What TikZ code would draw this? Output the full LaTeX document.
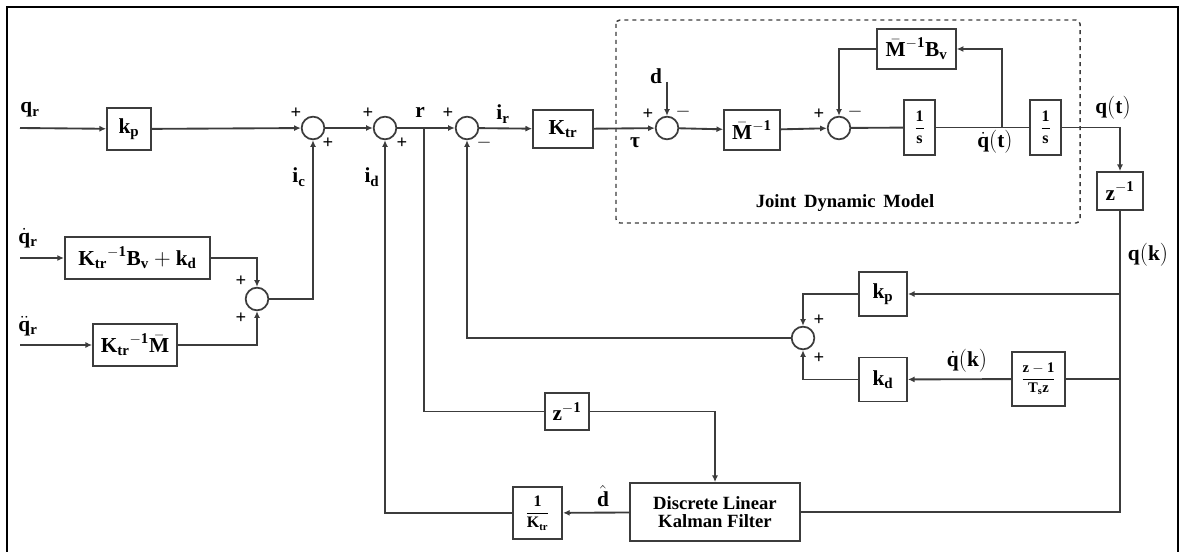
\documentclass[tikz,border=0pt]{standalone}
\usepackage{amsmath}
\usepackage{fontspec}
\setmainfont{Liberation Serif}
\usetikzlibrary{arrows.meta,positioning,calc}
\definecolor{linegrey}{RGB}{60,60,60}
\newcommand{\mb}[1]{\mathbf{#1}}

\begin{document}
\begin{tikzpicture}[x=0.75pt,y=-0.75pt,
    font=\fontsize{16}{18}\selectfont,
    blk/.style={rectangle, draw=linegrey, fill=white, line width=1.3pt, inner sep=1pt, align=center},
    sumn/.style={circle, draw=linegrey, fill=white, line width=1.3pt, minimum size=17pt, inner sep=0pt},
    wire/.style={draw=linegrey, line width=1.4pt},
    arr/.style={wire, -{Latex[length=5pt,width=4.5pt]}},
    sgn/.style={font=\fontsize{14}{14}\selectfont\bfseries, inner sep=0pt},
    lbl/.style={inner sep=0pt}
]
\useasboundingbox (0,0) rectangle (1184,552);
% outer frame
\draw[line width=1.6pt, draw=black] (7,552) -- (7,7) -- (1178,7) -- (1178,552);

% joint dynamic model
\draw[dashed, draw=linegrey, line width=1.1pt, rounded corners=3pt] (616,20) rectangle (1080,223);
\node[lbl, font=\fontsize{14}{16}\selectfont\bfseries] (jdm) at (845,203) {Joint\, Dynamic\, Model};

% forward path
\coordinate (qrin) at (20,128);
\node[blk, minimum width=33pt, minimum height=31pt] (kp) at (129,129) {$\mb{k}_{\mb{p}}$};
\node[sumn] (s1) at (313,128) {};
\node[sumn] (s2) at (385,128) {};
\node[sumn] (s3) at (467,128) {};
\node[blk, minimum width=45pt, minimum height=28.5pt] (ktr) at (563,129) {$\mb{K}_{\mb{tr}}$};
\node[sumn] (s4) at (667,128) {};
\coordinate (dtop) at (667,82);
\node[blk, minimum width=42pt, minimum height=30pt] (minv) at (752,130) {$\bar{\mb{M}}^{-\mb{1}}$};
\node[sumn] (s5) at (839,128) {};
\node[blk, minimum width=59pt, minimum height=30pt] (minvbv) at (916.5,49) {$\bar{\mb{M}}^{-\mb{1}}\mb{B}_{\mb{v}}$};
\node[blk, minimum width=23pt, minimum height=41pt, font=\fontsize{12}{14}\selectfont] (int1) at (919.5,127.5) {$\dfrac{\mb{1}}{\mb{s}}$};
\node[blk, minimum width=23pt, minimum height=41pt, font=\fontsize{12}{14}\selectfont] (int2) at (1045.5,127.5) {$\dfrac{\mb{1}}{\mb{s}}$};
\node[blk, minimum width=34.5pt, minimum height=28.5pt] (zinv1) at (1120,191) {$\mb{z}^{-\mb{1}}$};

% feed-forward inputs
\coordinate (qdrin) at (20,258);
\coordinate (qddrin) at (20,345);
\node[blk, minimum width=109pt, minimum height=32pt] (ffv) at (137.5,258) {$\mb{K}_{\mb{tr}}{}^{-\mb{1}}\mb{B}_{\mb{v}}+\mb{k}_{\mb{d}}$};
\node[blk, minimum width=63pt, minimum height=31.5pt] (ffa) at (135,345) {$\mb{K}_{\mb{tr}}{}^{-\mb{1}}\bar{\mb{M}}$};
\node[sumn] (sff) at (257,299) {};

% digital feedback
\node[blk, minimum width=36pt, minimum height=33pt] (kp2) at (883,294) {$\mb{k}_{\mb{p}}$};
\node[blk, minimum width=36pt, minimum height=33pt] (kd) at (883,379.5) {$\mb{k}_{\mb{d}}$};
\node[blk, minimum width=40pt, minimum height=40pt, font=\fontsize{11}{13}\selectfont] (diff) at (1038.5,379) {$\dfrac{\mb{z-1}}{\mb{T_s z}}$};
\node[sumn] (sfb) at (803,338) {};

% disturbance observer
\node[blk, minimum width=33pt, minimum height=28pt] (zinv2) at (567,411.5) {$\mb{z}^{-\mb{1}}$};
\node[blk, minimum width=127.5pt, minimum height=43.5pt, font=\fontsize{14}{16}\selectfont\bfseries] (kf) at (715,512) {Discrete Linear\\[-2pt]Kalman Filter};
\node[blk, minimum width=37pt, minimum height=39pt, font=\fontsize{12}{14}\selectfont] (kinv) at (537.5,513) {$\dfrac{\mb{1}}{\mb{K}_{\mb{tr}}}$};

% connectors
\draw[arr] (qrin) -- (kp);
\draw[arr] (kp) -- (s1);
\draw[arr] (s1) -- (s2);
\draw[arr] (s2) -- (s3);
\draw[arr] (s3) -- (ktr);
\draw[arr] (ktr) -- (s4);
\draw[arr] (dtop) -- (s4);
\draw[arr] (s4) -- (minv);
\draw[arr] (minv) -- (s5);
\draw[wire] (s5) -- (int1);
\draw[wire] (int1) -- (int2);
\draw[arr] (int1.east -| 1002,0) |- (minvbv);
\draw[arr] (minvbv) -| (s5);
\draw[arr] (int2) -| (zinv1);
\draw[wire] (zinv1) |- (kf);
\draw[arr] (zinv1.south |- kp2) -- (kp2);
\draw[wire] (zinv1.south |- diff) -- (diff);
\draw[arr] (diff) -- (kd);
\draw[arr] (kp2) -| (sfb);
\draw[arr] (kd) -| (sfb);
\draw[arr] (sfb) -| (s3);
\draw[wire] (s2.east -| 424,0) |- (zinv2);
\draw[arr] (zinv2) -| (kf);
\draw[arr] (kf) -- (kinv);
\draw[arr] (kinv) -| (s2);
\draw[arr] (qdrin) -- (ffv);
\draw[arr] (qddrin) -- (ffa);
\draw[arr] (ffv) -| (sff);
\draw[arr] (ffa) -| (sff);
\draw[arr] (sff) -| (s1);

% signal labels
\node[lbl] (lqr) at (30,110) {$\mb{q}_{\mb{r}}$};
\node[lbl] (lqdr) at (28,238) {$\dot{\mb{q}}_{\mb{r}}$};
\node[lbl] (lqddr) at (28,326) {$\ddot{\mb{q}}_{\mb{r}}$};
\node[lbl] (lic) at (299,177) {$\mb{i}_{\mb{c}}$};
\node[lbl] (lid) at (372,177) {$\mb{i}_{\mb{d}}$};
\node[lbl] (lr) at (420,112) {$\mb{r}$};
\node[lbl] (lir) at (503,114) {$\mb{i}_{\mb{r}}$};
\node[lbl, font=\fontsize{16}{18}\selectfont\bfseries] (ltau) at (635,143) {τ};
\node[lbl] (ld) at (656,76) {$\mb{d}$};
\node[lbl] (lqdt) at (995,142) {$\dot{\mb{q}}(\mb{t})$};
\node[lbl] (lqt) at (1113,108) {$\mb{q}(\mb{t})$};
\node[lbl] (lqk) at (1148,255) {$\mb{q}(\mb{k})$};
\node[lbl] (lqdk) at (967,361) {$\dot{\mb{q}}(\mb{k})$};
\node[lbl] (ldh) at (603,496) {$\hat{\mb{d}}$};

% signs
\node[sgn] at (296,113) {+};
\node[sgn] at (328,143) {+};
\node[sgn] at (368,113) {+};
\node[sgn] at (402,143) {+};
\node[sgn] at (448,113) {+};
\node[sgn] at (484,143) {$-$};
\node[sgn] at (648,114) {+};
\node[sgn] at (683,112) {$-$};
\node[sgn] at (819,114) {+};
\node[sgn] at (855,112) {$-$};
\node[sgn] at (819,320) {+};
\node[sgn] at (819,358) {+};
\node[sgn] at (241,281) {+};
\node[sgn] at (241,318) {+};
\end{tikzpicture}
\end{document}
